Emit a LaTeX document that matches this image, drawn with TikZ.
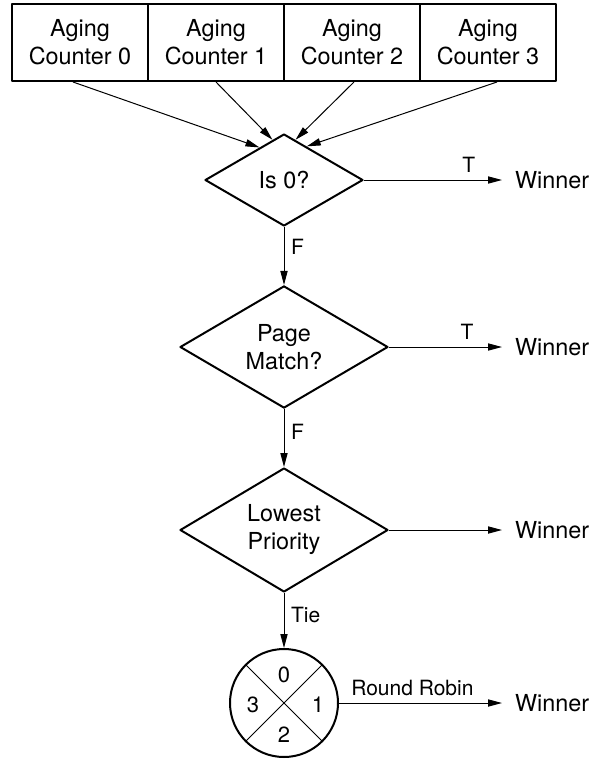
\documentclass[tikz,border=0pt]{standalone}
\usepackage{fontspec}
\setmainfont{TeX Gyre Heros}
\usetikzlibrary{shapes.geometric, arrows.meta}

\tikzset{
    counter/.style={draw, line width=1pt, minimum width=68pt, minimum height=38.5pt,
        inner sep=0pt, align=center, font=\fontsize{11.7}{14}\selectfont},
    decision/.style={diamond, draw, line width=1pt, inner sep=0pt, align=center,
        font=\fontsize{11.7}{14}\selectfont},
    winner/.style={anchor=west, inner sep=0pt, outer sep=6.5pt, font=\fontsize{11.7}{14}\selectfont},
    slot/.style={inner sep=0pt, font=\fontsize{11}{13}\selectfont},
    lbl/.style={font=\fontsize{10.5}{12}\selectfont},
    flow/.style={->, line width=0.5pt}
}

\begin{document}
\begin{tikzpicture}[x=0.5pt, y=-0.5pt, line join=round, >={Triangle[length=7pt, width=3.6pt]}]
    \useasboundingbox (0,0) rectangle (593,761);

    % Bốn bộ đếm tuổi
    \node[counter] (cnt0) at (80,42.5) {Aging\\Counter 0};
    \node[counter] (cnt1) at (216,42.5) {Aging\\Counter 1};
    \node[counter] (cnt2) at (352,42.5) {Aging\\Counter 2};
    \node[counter] (cnt3) at (488,42.5) {Aging\\Counter 3};

    % Các khối quyết định
    \node[decision, minimum width=79pt, minimum height=46pt] (zero) at (284,180) {Is 0?};
    \node[decision, minimum width=104pt, minimum height=60pt] (page) at (284,347) {Page\\Match?};
    \node[decision, minimum width=104pt, minimum height=62pt] (low) at (284,530) {Lowest\\Priority};

    % Vòng xoay (round robin)
    \node[circle, draw, line width=1pt, minimum size=54pt, inner sep=0pt] (rr) at (284,703) {};
    \draw[line width=0.5pt] (rr.north west) -- (rr.south east) (rr.north east) -- (rr.south west);
    \node[slot] (q0) at (284,675) {0};
    \node[slot] (q1) at (318,705) {1};
    \node[slot] (q2) at (284,735) {2};
    \node[slot] (q3) at (253,705) {3};

    % Kết quả
    \node[winner] (win0) at (502,180) {Winner};
    \node[winner] (win1) at (502,347) {Winner};
    \node[winner] (win2) at (502,530) {Winner};
    \node[winner] (win3) at (502,703) {Winner};

    % Mũi tên từ bộ đếm
    \draw[flow] ([xshift=-3.5pt]cnt0.south) -- (zero.127);
    \draw[flow] (cnt1.south) -- (zero.106);
    \draw[flow] ([xshift=1pt]cnt2.south) -- (zero.74);
    \draw[flow] ([xshift=4.5pt]cnt3.south) -- (zero.56);

    % Luồng chính
    \draw[flow] (zero.east) -- node[lbl, above, pos=0.76] (t0) {T} (win0.west);
    \draw[flow] (zero.south) -- node[lbl, right, pos=0.34] (f0) {F} (page.north);
    \draw[flow] (page.east) -- node[lbl, above, pos=0.69] (t1) {T} (win1.west);
    \draw[flow] (page.south) -- node[lbl, right, pos=0.4] (f1) {F} (low.north);
    \draw[flow] (low.east) -- (win2.west);
    \draw[flow] (low.south) -- node[lbl, right, pos=0.4] (tie) {Tie} (rr.north);
    \draw[flow] (rr.east) -- node[lbl, above, pos=0.45] (rrlbl) {Round Robin} (win3.west);
\end{tikzpicture}
\end{document}
